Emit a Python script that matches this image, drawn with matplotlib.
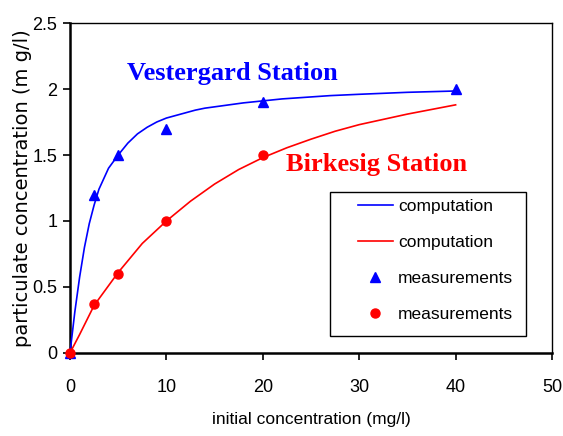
import matplotlib
matplotlib.use("Agg")
import matplotlib.pyplot as plt
from matplotlib.lines import Line2D
from matplotlib.patches import Rectangle

# Computed curves (initial concentration vs particulate concentration)
vest_comp_x = [0, 0.5, 1, 1.5, 2, 2.5, 3, 4, 5, 6, 7, 8, 9, 10, 11, 12, 13, 14, 16, 18,
               20, 22, 24, 27, 30, 35, 40]
vest_comp_y = [0, 0.31, 0.575, 0.80, 0.98, 1.12, 1.24, 1.40, 1.50, 1.59, 1.66, 1.71,
               1.75, 1.78, 1.80, 1.82, 1.84, 1.855, 1.875, 1.895, 1.91, 1.925, 1.935,
               1.95, 1.96, 1.975, 1.985]
birk_comp_x = [0, 1, 2.5, 5, 7.5, 10, 12.5, 15, 17.5, 20, 22.5, 25, 27.5, 30, 35, 40]
birk_comp_y = [0, 0.14, 0.36, 0.61, 0.83, 1.0, 1.15, 1.28, 1.39, 1.48, 1.555, 1.62,
               1.68, 1.73, 1.81, 1.88]

# Measurements
vest_meas_x = [0, 2.5, 5, 10, 20, 40]
vest_meas_y = [0, 1.2, 1.5, 1.7, 1.9, 2.0]
birk_meas_x = [0, 2.5, 5, 10, 20]
birk_meas_y = [0, 0.37, 0.6, 1.0, 1.5]

x_ticks = [0, 10, 20, 30, 40, 50]
y_ticks = [0, 0.5, 1, 1.5, 2, 2.5]
y_tick_labels = ["0", "0.5", "1", "1.5", "2", "2.5"]

plt.rcParams["font.family"] = ["Liberation Sans", "DejaVu Sans"]

fig = plt.figure(figsize=(5.63, 4.36), dpi=100)
ax = fig.add_axes([0.1243, 0.1904, 0.8562, 0.7568])

blue = "#0000ff"
red = "#ff0000"

ax.plot(vest_comp_x, vest_comp_y, color=blue, lw=1.2, clip_on=False, zorder=3)
ax.plot(birk_comp_x, birk_comp_y, color=red, lw=1.2, clip_on=False, zorder=3)
ax.plot(vest_meas_x, vest_meas_y, linestyle="none", marker="^", ms=7.5,
        color=blue, clip_on=False, zorder=4)
ax.plot(birk_meas_x, birk_meas_y, linestyle="none", marker="o", ms=6.5,
        color=red, clip_on=False, zorder=5)

ax.set_xlim(0, 50)
ax.set_ylim(0, 2.5)
ax.set_xticks(x_ticks)
ax.set_yticks(y_ticks)
ax.set_yticklabels(y_tick_labels)
ax.tick_params(direction="out", length=5, width=1.2, labelsize=13, colors="black")
ax.tick_params(axis="y", pad=4)
ax.tick_params(axis="x", pad=14)

for side in ["left", "bottom"]:
    ax.spines[side].set_linewidth(1.8)
for side in ["top", "right"]:
    ax.spines[side].set_linewidth(1.0)

ax.set_xlabel("initial concentration (mg/l)", fontsize=12.5, labelpad=11)
ax.set_ylabel("particulate concentration (m g/l)", fontsize=14, labelpad=0,
              family=["DejaVu Sans"])

ax.text(0.336, 0.848, "Vestergard Station", transform=ax.transAxes, color=blue,
        fontsize=19, fontweight="bold", family=["Liberation Serif"],
        ha="center", va="center")
ax.text(0.636, 0.57, "Birkesig Station", transform=ax.transAxes, color=red,
        fontsize=19, fontweight="bold", family=["Liberation Serif"],
        ha="center", va="center")

# Legend frame drawn separately so the padding can differ horizontally/vertically
ax.add_patch(Rectangle((0.539, 0.0515), 0.407, 0.4365, transform=ax.transAxes,
                       facecolor="white", edgecolor="black", lw=1.0, zorder=6))

handles = [
    Line2D([], [], color=blue, lw=1.2),
    Line2D([], [], color=red, lw=1.2),
    Line2D([], [], color=blue, marker="^", linestyle="none", ms=7.5),
    Line2D([], [], color=red, marker="o", linestyle="none", ms=6.5),
]
labels = ["computation", "computation", "measurements", "measurements"]
leg = ax.legend(handles, labels, loc="upper left", bbox_to_anchor=(0.5975, 0.467),
                fontsize=12.5, frameon=False, handlelength=2.0,
                handletextpad=0.3, labelspacing=1.2, borderpad=0, borderaxespad=0)
leg.set_zorder(7)

fig.savefig("out.png", dpi=100)
